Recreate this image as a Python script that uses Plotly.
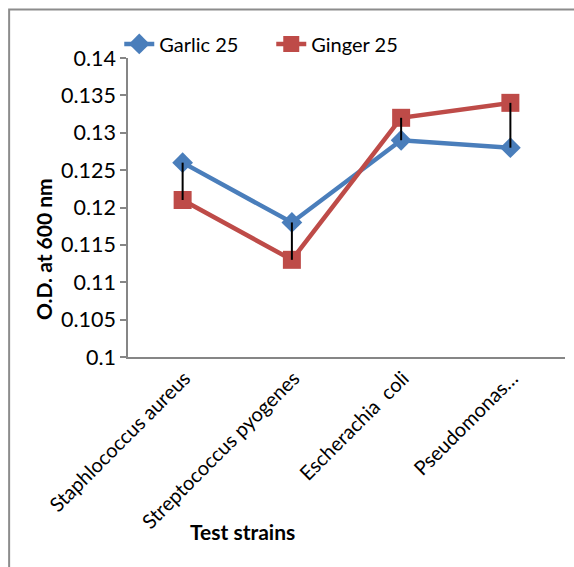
import plotly.graph_objects as go

categories = ["Staphlococcus aureus", "Streptococcus pyogenes", "Escherachia  coli", "Pseudomonas…"]
garlic_25 = [0.126, 0.118, 0.129, 0.128]
ginger_25 = [0.121, 0.113, 0.132, 0.134]
y_ticks = [0.1, 0.105, 0.11, 0.115, 0.12, 0.125, 0.13, 0.135, 0.14]
y_tick_labels = ["0.1", "0.105", "0.11", "0.115", "0.12", "0.125", "0.13", "0.135", "0.14"]

FONT = "Lato"
BLUE = "#4A7EBB"
RED = "#BE4B48"

fig = go.Figure()
fig.add_trace(go.Scatter(
    x=categories, y=garlic_25, name="Garlic 25", mode="lines+markers",
    line=dict(color=BLUE, width=4.5),
    marker=dict(symbol="diamond", size=16, color=BLUE),
))
fig.add_trace(go.Scatter(
    x=categories, y=ginger_25, name="Ginger 25", mode="lines+markers",
    line=dict(color=RED, width=4.5),
    marker=dict(symbol="square", size=18, color=RED),
))

# high-low lines
hx, hy = [], []
for c, a, b in zip(categories, garlic_25, ginger_25):
    hx += [c, c, None]
    hy += [min(a, b), max(a, b), None]
fig.add_trace(go.Scatter(x=hx, y=hy, mode="lines", line=dict(color="black", width=2),
                         showlegend=False, hoverinfo="skip"))

fig.update_layout(
    width=574, height=567,
    margin=dict(l=128, r=9, t=58, b=210, autoexpand=False),
    paper_bgcolor="white", plot_bgcolor="white",
    font=dict(family=FONT, size=19, color="black"),
    showlegend=True,
    legend=dict(orientation="h", x=-0.02, y=1.047, xanchor="left", yanchor="middle",
                font=dict(size=20), bgcolor="rgba(0,0,0,0)", traceorder="normal",
                entrywidth=107),
    xaxis=dict(type="category", categoryorder="array", categoryarray=categories,
               range=[-0.5, 3.5], showline=True, linecolor="#868686", linewidth=1.5,
               ticks="", tickangle=-45, showgrid=False, zeroline=False,
               tickfont=dict(size=20), ticklabelshift=2, automargin=False),
    yaxis=dict(range=[0.1, 0.14], tickvals=y_ticks, ticktext=y_tick_labels,
               showline=True, linecolor="#868686", linewidth=1.5,
               ticks="outside", ticklen=6, tickcolor="#868686", tickwidth=1.5,
               showgrid=False, zeroline=False, tickfont=dict(size=21.5), automargin=False),
    shapes=[dict(type="rect", xref="paper", yref="paper",
                 x0=-0.272, x1=1.2, y0=-1.0, y1=1.162,
                 line=dict(color="#8C8C8C", width=2), fillcolor="rgba(0,0,0,0)", layer="below")],
    annotations=[
        dict(text="<b>O.D. at 600 nm</b>", xref="paper", yref="paper", x=-0.1945, y=0.361,
             textangle=-90, showarrow=False, font=dict(size=21), xanchor="center", yanchor="middle"),
        dict(text="<b>Test strains</b>", xref="paper", yref="paper", x=0.261, y=-0.585,
             showarrow=False, font=dict(size=21), xanchor="center", yanchor="middle"),
    ],
)

fig.write_html("out.html", config={"displayModeBar": False},
               post_script="document.body.style.margin='0';")
